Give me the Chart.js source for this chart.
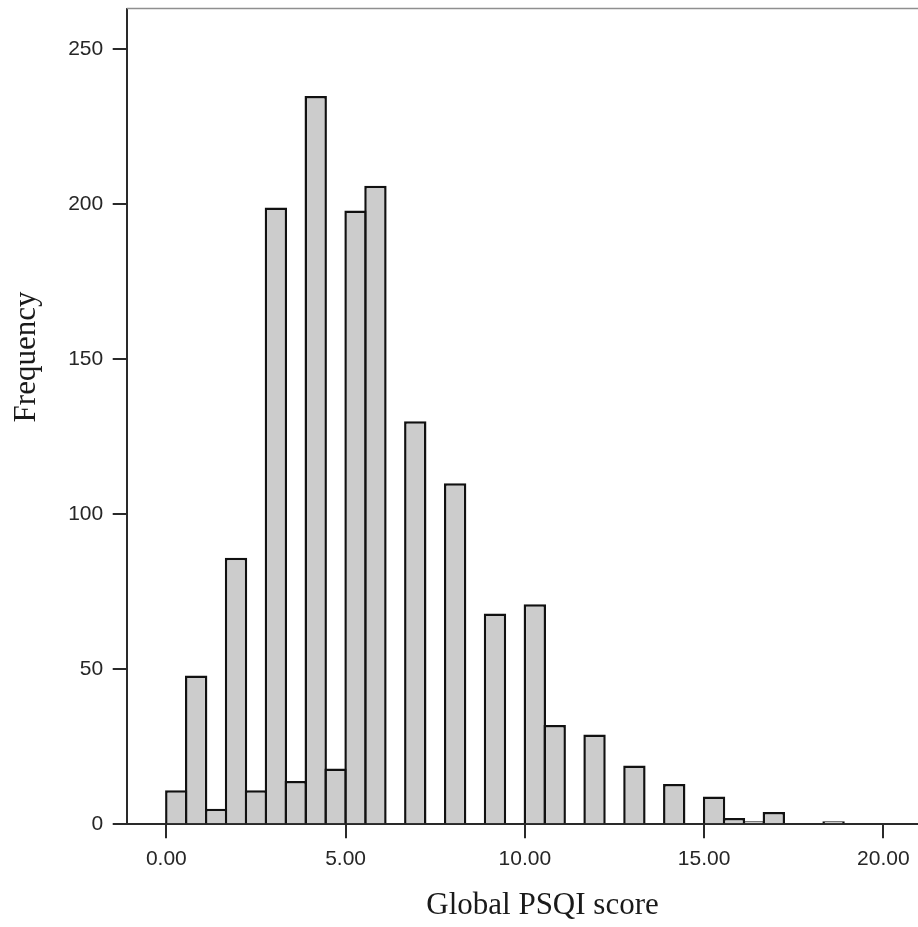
<!DOCTYPE html>
<html>
<head>
<meta charset="utf-8">
<script src="https://cdn.jsdelivr.net/npm/chart.js@4.4.1/dist/chart.umd.min.js"></script>
<style>
  html, body { margin: 0; padding: 0; background: #ffffff; overflow: hidden; width: 918px; height: 927px; }
  #wrap { position: absolute; left: 0; top: 0; width: 980px; height: 927px; }
</style>
</head>
<body>
<div id="wrap"><canvas id="c" width="980" height="927"></canvas></div>
<script>
// Histogram bins (bin centres, Global PSQI score) and their frequencies
const binCenters = [0.278, 0.833, 1.389, 1.944, 2.500, 3.056, 3.611, 4.167, 4.722, 5.278,
                    5.833, 6.389, 6.944, 7.500, 8.056, 8.611, 9.167, 9.722, 10.278, 10.833,
                    11.389, 11.944, 12.500, 13.056, 13.611, 14.167, 14.722, 15.278, 15.833, 16.389,
                    16.944, 17.500, 18.056, 18.611];
const frequencies = [11, 48, 5, 86, 11, 199, 14, 235, 18, 198,
                     206, 0, 130, 0, 110, 0, 68, 0, 71, 32,
                     0, 29, 0, 19, 0, 13, 0, 9, 2, 1,
                     4, 0, 0, 1];
const xTickValues = [0, 5, 10, 15, 20];
const xTickLabels = ["0.00", "5.00", "10.00", "15.00", "20.00"];
const yTickValues = [0, 50, 100, 150, 200, 250];
const yTickLabels = ["0", "50", "100", "150", "200", "250"];
const xTitle = "Global PSQI score";
const yTitle = "Frequency";

const frame = {
  id: 'frame',
  afterDraw(chart) {
    const {ctx, chartArea: a} = chart;
    ctx.save();
    ctx.strokeStyle = '#8f8f8f';
    ctx.lineWidth = 1.5;
    ctx.beginPath();
    ctx.moveTo(a.left, a.top);
    ctx.lineTo(a.right, a.top);
    ctx.lineTo(a.right, a.bottom);
    ctx.stroke();
    // y-axis title
    ctx.fillStyle = '#1a1a1a';
    ctx.font = '31px "Liberation Serif", "Times New Roman", serif';
    ctx.textAlign = 'center';
    ctx.textBaseline = 'alphabetic';
    ctx.translate(35, 357);
    ctx.rotate(-Math.PI / 2);
    ctx.fillText(yTitle, 0, 0);
    ctx.restore();
  }
};

new Chart(document.getElementById('c'), {
  type: 'bar',
  data: {
    datasets: [{
      data: binCenters.map((x, i) => ({x: x, y: frequencies[i]})),
      backgroundColor: '#cccccc',
      borderColor: '#111111',
      borderWidth: 2.5,
      borderSkipped: 'start',
      barPercentage: 1.125,
      categoryPercentage: 1.0
    }]
  },
  options: {
    responsive: false,
    animation: false,
    devicePixelRatio: 1,
    layout: { padding: { left: 0, right: 21.7, top: 8.5, bottom: 0 } },
    plugins: { legend: { display: false }, tooltip: { enabled: false } },
    scales: {
      x: {
        type: 'linear',
        position: 'bottom',
        min: -1.105,
        max: 22.09,
        offset: false,
        afterBuildTicks(s) { s.ticks = xTickValues.map(v => ({value: v})); },
        afterFit(s) { s.height = 102.7; s.paddingLeft = 0; s.paddingRight = 0; },
        ticks: {
          callback: (v) => xTickLabels[xTickValues.indexOf(v)],
          font: { family: '"Liberation Sans", Arial, sans-serif', size: 21 },
          color: '#262626',
          padding: 8,
          maxRotation: 0,
          autoSkip: false
        },
        grid: { offset: false, drawOnChartArea: false, drawTicks: true, tickLength: 14, tickColor: '#2a2a2a', lineWidth: 2 },
        border: { display: true, color: '#2a2a2a', width: 2 },
        title: {
          display: true,
          text: xTitle,
          color: '#1a1a1a',
          font: { family: '"Liberation Serif", "Times New Roman", serif', size: 31, lineHeight: 1.2 },
          padding: { top: 0, bottom: 3 }
        }
      },
      y: {
        type: 'linear',
        min: 0,
        max: 263.2,
        afterBuildTicks(s) { s.ticks = yTickValues.map(v => ({value: v})); },
        afterFit(s) { s.width = 126.7; s.paddingTop = 0; s.paddingBottom = 0; },
        ticks: {
          callback: (v) => yTickLabels[yTickValues.indexOf(v)],
          font: { family: '"Liberation Sans", Arial, sans-serif', size: 21 },
          color: '#262626',
          padding: 9.5
        },
        grid: { offset: false, drawOnChartArea: false, drawTicks: true, tickLength: 14, tickColor: '#2a2a2a', lineWidth: 2 },
        border: { display: true, color: '#2a2a2a', width: 2 }
      }
    }
  },
  plugins: [frame]
});
</script>
</body>
</html>
